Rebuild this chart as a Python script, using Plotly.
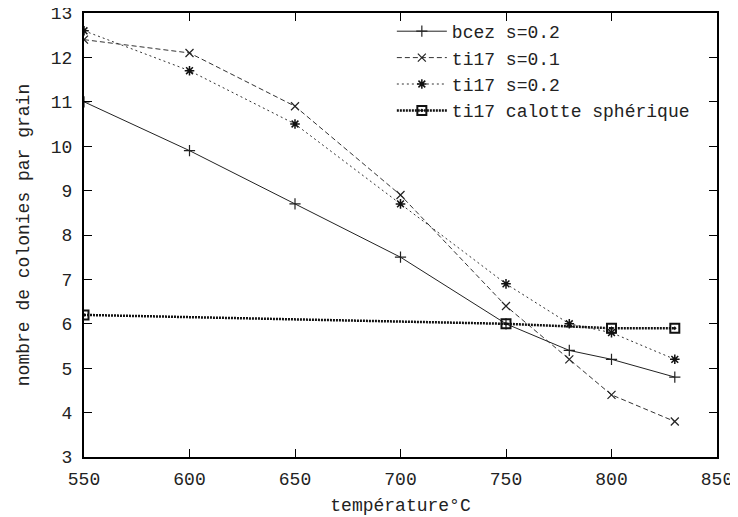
import plotly.graph_objects as go

temp = [550, 600, 650, 700, 750, 780, 800, 830]
bcez_02 = [11.0, 9.9, 8.7, 7.5, 6.0, 5.4, 5.2, 4.8]
ti17_01 = [12.4, 12.1, 10.9, 8.9, 6.4, 5.2, 4.4, 3.8]
ti17_02 = [12.6, 11.7, 10.5, 8.7, 6.9, 6.0, 5.8, 5.2]
temp_cal = [550, 750, 800, 830]
ti17_cal = [6.2, 6.0, 5.9, 5.9]

font = "Liberation Mono, Courier New, monospace"

fig = go.Figure()
fig.add_trace(go.Scatter(
    x=temp, y=bcez_02, name="bcez s=0.2", mode="lines+markers",
    line=dict(color="#222", width=1),
    marker=dict(symbol="cross-thin", size=8, line=dict(color="#222", width=1.2)),
))
fig.add_trace(go.Scatter(
    x=temp, y=ti17_01, name="ti17 s=0.1", mode="lines+markers",
    line=dict(color="#333", width=1, dash="5px,3px"),
    marker=dict(symbol="x-thin", size=8, line=dict(color="#222", width=1.2)),
))
fig.add_trace(go.Scatter(
    x=temp, y=ti17_02, name="ti17 s=0.2", mode="lines+markers",
    line=dict(color="#333", width=1, dash="2px,3px"),
    marker=dict(symbol="asterisk", size=8, line=dict(color="#111", width=1.5)),
))
fig.add_trace(go.Scatter(
    x=temp_cal, y=ti17_cal, name="ti17 calotte sphérique", mode="lines+markers",
    line=dict(color="#111", width=2.5, dash="2px,1px"),
    marker=dict(symbol="square-open-dot", size=9, color="#111", line=dict(color="#111", width=2)),
))

axis_common = dict(
    showgrid=False, zeroline=False, showline=True, linecolor="black", linewidth=2,
    mirror="ticks", ticks="inside", ticklen=8, tickcolor="black", tickwidth=1,
    tickfont=dict(family=font, size=18, color="#222"), automargin=False,
    ticklabeloverflow="allow",
)

fig.update_xaxes(range=[550, 850], dtick=50, tick0=550, ticklabelstandoff=4,
                 title=dict(text="température°C", font=dict(family=font, size=18, color="#222"), standoff=10),
                 **axis_common)
fig.update_yaxes(range=[3, 13], dtick=1, tick0=3, ticklabelstandoff=6,
                 title=dict(text="nombre de colonies par grain", font=dict(family=font, size=18, color="#222"), standoff=16),
                 **axis_common)

# the page body adds an 8px offset, so margins are shifted to compensate
fig.update_layout(
    width=738, height=517,
    margin=dict(l=76, r=29, t=5, b=68),
    plot_bgcolor="white", paper_bgcolor="white",
    font=dict(family=font, size=18, color="#222"),
    legend=dict(x=0.965, xanchor="right", y=1.0, yanchor="top",
                bgcolor="rgba(0,0,0,0)", font=dict(family=font, size=18),
                tracegroupgap=0, itemwidth=50),
    showlegend=True,
)

fig.write_html("out.html")
